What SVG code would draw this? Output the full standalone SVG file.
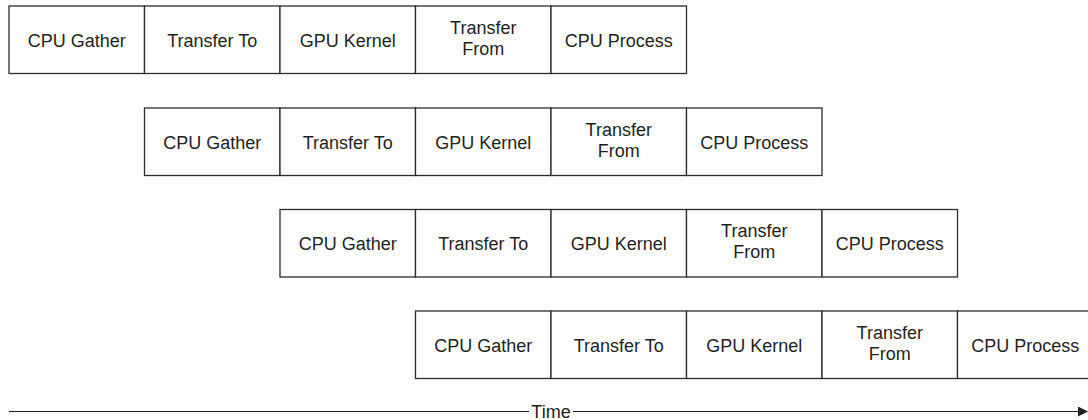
<svg xmlns="http://www.w3.org/2000/svg" width="1088" height="420" viewBox="0 0 1088 420">
<style>
.box{fill:#fff;stroke:#2b2b2b;stroke-width:1.3}
.lbl{font-family:"Liberation Sans",Arial,sans-serif;font-size:18px;fill:#231f20;text-anchor:middle}
.ax{stroke:#231f20;stroke-width:1.2;fill:none}
</style>
<defs>
<marker id="ah" markerWidth="10" markerHeight="10" refX="9" refY="5" orient="auto" markerUnits="userSpaceOnUse">
<path d="M0,0 L10,5 L0,10 Z" fill="#231f20"/>
</marker>
</defs>
<rect width="1088" height="420" fill="#fff"/>
<!-- Row 1 -->
<g id="r1-gather" transform="translate(9,6)"><rect class="box" width="135.5" height="67.5"/><text class="lbl" x="67.75" y="40.5">CPU Gather</text></g>
<g id="r1-to" transform="translate(144.5,6)"><rect class="box" width="135.5" height="67.5"/><text class="lbl" x="67.75" y="40.5">Transfer To</text></g>
<g id="r1-kernel" transform="translate(280,6)"><rect class="box" width="135.5" height="67.5"/><text class="lbl" x="67.75" y="40.5">GPU Kernel</text></g>
<g id="r1-from" transform="translate(415.5,6)"><rect class="box" width="135.5" height="67.5"/><text class="lbl" x="67.75" y="27.5">Transfer</text><text class="lbl" x="67.75" y="48.5">From</text></g>
<g id="r1-process" transform="translate(551,6)"><rect class="box" width="135.5" height="67.5"/><text class="lbl" x="67.75" y="40.5">CPU Process</text></g>
<!-- Row 2 -->
<g id="r2-gather" transform="translate(144.5,108)"><rect class="box" width="135.5" height="67.5"/><text class="lbl" x="67.75" y="40.5">CPU Gather</text></g>
<g id="r2-to" transform="translate(280,108)"><rect class="box" width="135.5" height="67.5"/><text class="lbl" x="67.75" y="40.5">Transfer To</text></g>
<g id="r2-kernel" transform="translate(415.5,108)"><rect class="box" width="135.5" height="67.5"/><text class="lbl" x="67.75" y="40.5">GPU Kernel</text></g>
<g id="r2-from" transform="translate(551,108)"><rect class="box" width="135.5" height="67.5"/><text class="lbl" x="67.75" y="27.5">Transfer</text><text class="lbl" x="67.75" y="48.5">From</text></g>
<g id="r2-process" transform="translate(686.5,108)"><rect class="box" width="135.5" height="67.5"/><text class="lbl" x="67.75" y="40.5">CPU Process</text></g>
<!-- Row 3 -->
<g id="r3-gather" transform="translate(280,209.5)"><rect class="box" width="135.5" height="67.5"/><text class="lbl" x="67.75" y="40.5">CPU Gather</text></g>
<g id="r3-to" transform="translate(415.5,209.5)"><rect class="box" width="135.5" height="67.5"/><text class="lbl" x="67.75" y="40.5">Transfer To</text></g>
<g id="r3-kernel" transform="translate(551,209.5)"><rect class="box" width="135.5" height="67.5"/><text class="lbl" x="67.75" y="40.5">GPU Kernel</text></g>
<g id="r3-from" transform="translate(686.5,209.5)"><rect class="box" width="135.5" height="67.5"/><text class="lbl" x="67.75" y="27.5">Transfer</text><text class="lbl" x="67.75" y="48.5">From</text></g>
<g id="r3-process" transform="translate(822,209.5)"><rect class="box" width="135.5" height="67.5"/><text class="lbl" x="67.75" y="40.5">CPU Process</text></g>
<!-- Row 4 -->
<g id="r4-gather" transform="translate(415.5,311)"><rect class="box" width="135.5" height="67.5"/><text class="lbl" x="67.75" y="40.5">CPU Gather</text></g>
<g id="r4-to" transform="translate(551,311)"><rect class="box" width="135.5" height="67.5"/><text class="lbl" x="67.75" y="40.5">Transfer To</text></g>
<g id="r4-kernel" transform="translate(686.5,311)"><rect class="box" width="135.5" height="67.5"/><text class="lbl" x="67.75" y="40.5">GPU Kernel</text></g>
<g id="r4-from" transform="translate(822,311)"><rect class="box" width="135.5" height="67.5"/><text class="lbl" x="67.75" y="27.5">Transfer</text><text class="lbl" x="67.75" y="48.5">From</text></g>
<g id="r4-process" transform="translate(957.5,311)"><rect class="box" width="135.5" height="67.5"/><text class="lbl" x="67.75" y="40.5">CPU Process</text></g>
<!-- Time axis -->
<g id="connectors">
<line class="ax" x1="9" y1="411.5" x2="529" y2="411.5"/>
<line class="ax" x1="573" y1="411.5" x2="1087" y2="411.5" marker-end="url(#ah)"/>
</g>
<g id="time-label"><text class="lbl" x="551" y="417.5">Time</text></g>
</svg>
